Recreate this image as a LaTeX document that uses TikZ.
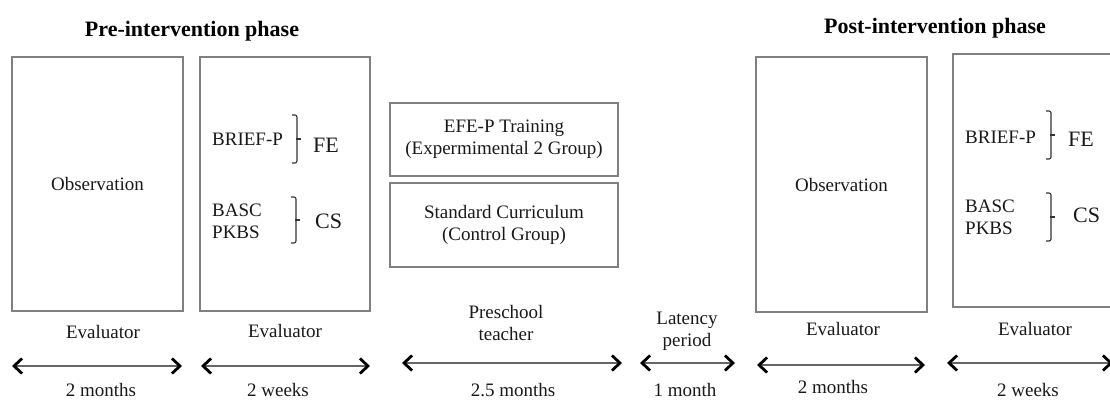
\documentclass[tikz,border=0pt]{standalone}
\usepackage{fontspec}
\setmainfont{Liberation Serif}
\usetikzlibrary{arrows.meta}
\tikzset{
  chev/.tip={Straight Barb[length=8pt,width=15pt,line width=2.8pt,color=black]},
  span/.style={chev-chev,draw=black!60,line width=1.1pt},
  phasebox/.style={draw=black!50,line width=1.1pt,inner sep=0pt,outer sep=0pt},
  lbl/.style={font=\fontsize{19}{22}\selectfont,text=black!90,inner sep=0pt},
  ttl/.style={font=\fontsize{22}{26}\selectfont\bfseries,inner sep=0pt},
  tag/.style={font=\fontsize{22}{26}\selectfont,text=black!90,inner sep=0pt},
  brk/.style={draw=black!80,line width=1.1pt,rounded corners=2pt}
}
% bracket: x, top, bottom
\newcommand{\grpbracket}[3]{%
  \draw[brk](#1,#2)--(#1+5,#2)--(#1+5,#3)--(#1,#3);
  \draw[draw=black!80,line width=1.2pt](#1+4,{(#2+#3)/2})--(#1+9,{(#2+#3)/2});
}

\begin{document}
\begin{tikzpicture}[x=1pt,y=-1pt]
\useasboundingbox (0,0) rectangle (1110,399);
% Titles:
\node (ttlpre) [ttl,anchor=base] at (192,36) {Pre-intervention phase};
\node (ttlpost) [ttl,anchor=base] at (935,33) {Post-intervention phase};
% Pre-intervention boxes:
\node (preobs) [phasebox,lbl,minimum width=171pt,minimum height=254pt] at (97.5,184) {Observation};
\node (pretest) [phasebox,minimum width=170pt,minimum height=254pt] at (285,184) {};
\node (prebrief) [lbl,anchor=west] at (212,139.5) {BRIEF-P};
\node (prebasc) [lbl,anchor=west,align=left] at (212,221.5) {BASC\\PKBS};
\grpbracket{292}{115}{163}
\grpbracket{291}{197}{243}
\node (prefe) [tag,anchor=west] at (313,145) {FE};
\node (precs) [tag,anchor=west] at (315,221.5) {CS};
% Intervention:
\node (train) [phasebox,lbl,align=center,minimum width=228pt,minimum height=73pt] at (504,139.5) {EFE-P Training\\(Expermimental 2 Group)};
\node (ctrl) [phasebox,lbl,align=center,minimum width=228pt,minimum height=84pt] at (504,225) {Standard Curriculum\\(Control Group)};
% Post-intervention boxes:
\node (postobs) [phasebox,lbl,minimum width=171pt,minimum height=255pt] at (841.5,184.5) {Observation};
\node (posttest) [phasebox,minimum width=167pt,minimum height=253pt] at (1036.5,180.5) {};
\node (postbrief) [lbl,anchor=west] at (965,137.5) {BRIEF-P};
\node (postbasc) [lbl,anchor=west,align=left] at (965,217.5) {BASC\\PKBS};
\grpbracket{1046}{111}{159}
\grpbracket{1046}{193}{241}
\node (postfe) [tag,anchor=west] at (1068,139.5) {FE};
\node (postcs) [tag,anchor=west] at (1073,215.5) {CS};
% Who:
\node (who1) [lbl,anchor=base] at (103,338) {Evaluator};
\node (who2) [lbl,anchor=base] at (285,337) {Evaluator};
\node (who3) [lbl,align=center] at (506,322.5) {Preschool\\teacher};
\node (who4) [lbl,align=center] at (687,331) {Latency\\period};
\node (who5) [lbl,anchor=base] at (843,335) {Evaluator};
\node (who6) [lbl,anchor=base] at (1035,335) {Evaluator};
% Time spans:
\coordinate (s1a) at (12,366);  \coordinate (s1b) at (182,366);
\coordinate (s2a) at (201,366); \coordinate (s2b) at (370,366);
\coordinate (s3a) at (402,363); \coordinate (s3b) at (622,363);
\coordinate (s4a) at (640,363); \coordinate (s4b) at (735,363);
\coordinate (s5a) at (757,365); \coordinate (s5b) at (925,365);
\coordinate (s6a) at (947,363); \coordinate (s6b) at (1113,363);
\draw[span](s1a)--(s1b);
\draw[span](s2a)--(s2b);
\draw[span](s3a)--(s3b);
\draw[span](s4a)--(s4b);
\draw[span](s5a)--(s5b);
\draw[span](s6a)--(s6b);
\node (len1) [lbl,anchor=base] at (101,396) {2 months};
\node (len2) [lbl,anchor=base] at (278,396) {2 weeks};
\node (len3) [lbl,anchor=base] at (513,396) {2.5 months};
\node (len4) [lbl,anchor=base] at (685,396) {1 month};
\node (len5) [lbl,anchor=base] at (833,393) {2 months};
\node (len6) [lbl,anchor=base] at (1028,396) {2 weeks};
\end{tikzpicture}
\end{document}
